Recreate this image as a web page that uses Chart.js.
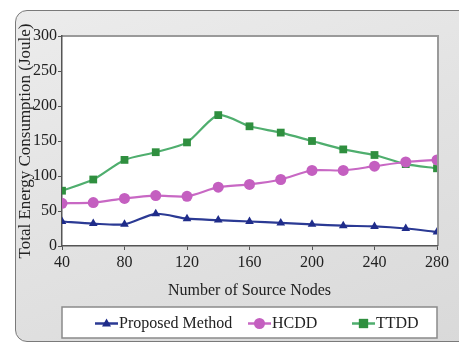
<!DOCTYPE html>
<html>
<head>
<meta charset="utf-8">
<script src="https://cdn.jsdelivr.net/npm/chart.js@4.4.1/dist/chart.umd.min.js"></script>
<style>
  html, body { margin: 0; padding: 0; background: #fff; }
  #wrap { position: relative; width: 459px; height: 342px; overflow: hidden; }
  #panel {
    position: absolute; left: 15px; top: 10px; width: 470px; height: 330px;
    border: 1px solid #7a7a7a; border-radius: 12px;
    background: linear-gradient(160deg, #ececec 0%, #e2e2e2 50%, #d9d9d9 100%);
  }
  #c { position: absolute; left: 0; top: 0; }
</style>
</head>
<body>
<div id="wrap">
  <div id="panel"></div>
  <canvas id="c" width="459" height="342"></canvas>
</div>
<script>
// source node counts on the x axis
var nodes = [40, 60, 80, 100, 120, 140, 160, 180, 200, 220, 240, 260, 280];

// total energy consumption (Joule)
var proposed = [35, 32, 31, 46, 39, 37, 35, 33, 31, 29, 28, 25, 20];
var hcdd     = [61, 62, 68, 72, 71, 84, 88, 95, 108, 108, 114, 120, 123];
var ttdd     = [79, 95, 123, 134, 148, 187, 171, 162, 150, 138, 130, 117, 111];

var xTicks = [40, 80, 120, 160, 200, 240, 280];
var yTicks = [0, 50, 100, 150, 200, 250, 300];

var FONT = '"Liberation Serif", "Times New Roman", serif';

var series = [
  { label: 'Proposed Method', data: proposed, line: '#2b3a94', fill: '#1f2c8a', shape: 'triangle', r: 5 },
  { label: 'HCDD', data: hcdd, line: '#c868c4', fill: '#c45fc0', shape: 'circle', r: 5.5 },
  { label: 'TTDD', data: ttdd, line: '#4fae6e', fill: '#2f8f3f', shape: 'rect', r: 5.5 }
];

function toPoints(arr) {
  var out = [];
  for (var i = 0; i < arr.length; i++) out.push({ x: nodes[i], y: arr[i] });
  return out;
}

// white plot area with grey frame on top/right
var plotBg = {
  id: 'plotBg',
  beforeDraw: function (chart) {
    var a = chart.chartArea, ctx = chart.ctx;
    ctx.save();
    ctx.fillStyle = '#fff';
    ctx.fillRect(a.left, a.top, a.right - a.left, a.bottom - a.top);
    ctx.strokeStyle = '#9a9a9a';
    ctx.lineWidth = 2;
    ctx.beginPath();
    ctx.moveTo(a.left, a.top);
    ctx.lineTo(a.right + 1, a.top);
    ctx.lineTo(a.right + 1, a.bottom);
    ctx.stroke();
    ctx.restore();
  }
};

function drawMarker(ctx, shape, x, y, r) {
  ctx.beginPath();
  if (shape === 'triangle') {
    ctx.moveTo(x, y - r);
    ctx.lineTo(x + r * 0.9, y + r * 0.6);
    ctx.lineTo(x - r * 0.9, y + r * 0.6);
    ctx.closePath();
  } else if (shape === 'circle') {
    ctx.arc(x, y, r, 0, Math.PI * 2);
  } else {
    ctx.rect(x - r * 0.85, y - r * 0.85, r * 1.7, r * 1.7);
  }
  ctx.fill();
}

// boxed legend under the axis title
var boxLegend = {
  id: 'boxLegend',
  afterDraw: function (chart) {
    var ctx = chart.ctx;
    var bx = 62, by = 307, bw = 375, bh = 31;
    ctx.save();
    ctx.fillStyle = '#fff';
    ctx.fillRect(bx, by, bw, bh);
    ctx.strokeStyle = '#8a8a8a';
    ctx.lineWidth = 1.5;
    ctx.strokeRect(bx, by, bw, bh);

    var starts = [95, 248, 352];
    var cy = by + bh / 2 + 1;
    ctx.font = '16px ' + FONT;
    ctx.textBaseline = 'middle';
    ctx.fillStyle = '#222';
    for (var i = 0; i < series.length; i++) {
      var s = series[i], x0 = starts[i];
      ctx.strokeStyle = s.line;
      ctx.lineWidth = 2.5;
      ctx.beginPath();
      ctx.moveTo(x0, cy);
      ctx.lineTo(x0 + 23, cy);
      ctx.stroke();
      ctx.fillStyle = s.fill;
      drawMarker(ctx, s.shape, x0 + 11.5, cy, s.r);
      ctx.fillStyle = '#222';
      ctx.fillText(s.label, x0 + 24, cy);
    }
    ctx.restore();
  }
};

var datasets = series.map(function (s) {
  return {
    label: s.label,
    data: toPoints(s.data),
    borderColor: s.line,
    backgroundColor: s.fill,
    borderWidth: 2.2,
    tension: 0.25,
    pointStyle: s.shape,
    pointRadius: s.r,
    pointBorderWidth: 0,
    pointBackgroundColor: s.fill
  };
});

new Chart(document.getElementById('c'), {
  type: 'line',
  data: { datasets: datasets },
  plugins: [plotBg, boxLegend],
  options: {
    responsive: false,
    animation: false,
    events: [],
    layout: { padding: { left: 0, right: 22, top: 36, bottom: 36 } },
    plugins: { legend: { display: false }, tooltip: { enabled: false } },
    scales: {
      x: {
        type: 'linear',
        min: 40, max: 280,
        afterBuildTicks: function (scale) {
          scale.ticks = xTicks.map(function (v) { return { value: v }; });
        },
        afterFit: function (scale) { scale.height = 60; },
        border: { color: '#555', width: 1.5 },
        grid: { drawOnChartArea: false, drawTicks: true, tickLength: 4, color: '#555' },
        ticks: { color: '#222', padding: 3, font: { family: FONT, size: 16 } },
        title: {
          display: true, text: 'Number of Source Nodes', color: '#222',
          font: { family: FONT, size: 16 }, padding: { top: 0, bottom: 6 }
        }
      },
      y: {
        min: 0, max: 300,
        afterBuildTicks: function (scale) {
          scale.ticks = yTicks.map(function (v) { return { value: v }; });
        },
        afterFit: function (scale) { scale.width = 62; },
        border: { color: '#555', width: 1.5 },
        grid: { drawOnChartArea: false, drawTicks: true, tickLength: 4, color: '#555' },
        ticks: { color: '#222', padding: 1, font: { family: FONT, size: 16 } },
        title: {
          display: true, text: 'Total Energy Consumption (Joule)', color: '#222',
          font: { family: FONT, size: 17 }, padding: { top: 15, bottom: 0 }
        }
      }
    }
  }
});
</script>
</body>
</html>
